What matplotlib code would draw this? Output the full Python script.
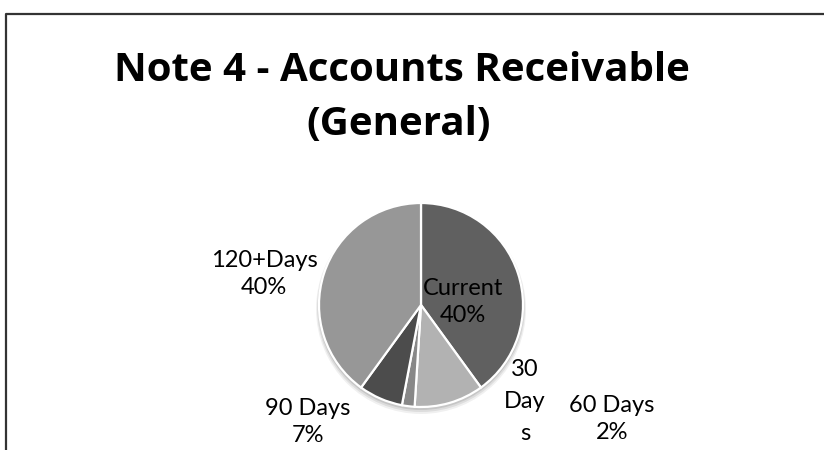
import matplotlib
matplotlib.use("Agg")
import matplotlib.pyplot as plt
from matplotlib.patches import Circle
from matplotlib.lines import Line2D

# ---- data ----
categories = ["Current", "30 Days", "60 Days", "90 Days", "120+Days"]
values = [40, 11, 2, 7, 40]
title_lines = ["Note 4 - Accounts Receivable", "(General)"]

# ---- style / layout ----
colors = ["#606060", "#b2b2b2", "#888888", "#4c4c4c", "#979797"]
W, H = 824, 450
center = (421, H - 305)
radius = 102
font = ["Lato", "DejaVu Sans"]
title_font = ["Open Sans", "DejaVu Sans"]

# label texts; Excel wraps "30 Days" in a narrow box and its percentage falls
# below the cropped picture, so only "30 / Day / s" is visible
label_texts = [f"{c}\n{v}%" for c, v in zip(categories, values)]
label_pos = [(463, 302), None, (612, 419), (308, 422), (264, 274)]
wrapped_30 = ["30", "Day", "s"]

fig = plt.figure(figsize=(W / 100, H / 100), dpi=100)
fig.patch.set_facecolor("white")
ax = fig.add_axes([0, 0, 1, 1])
ax.set_xlim(0, W)
ax.set_ylim(0, H)
ax.axis("off")

# soft shadow under the pie
for i, a in enumerate([0.10, 0.08, 0.06]):
    ax.add_patch(Circle((center[0], center[1] - 2 - i), radius + 1 + i,
                        facecolor="black", alpha=a, edgecolor="none", zorder=0))

wedges, _ = ax.pie(values, colors=colors, startangle=90, counterclock=False,
                   center=center, radius=radius,
                   wedgeprops=dict(edgecolor="white", linewidth=1.6))
for w in wedges:
    w.set_zorder(2)
ax.set_xlim(0, W)
ax.set_ylim(0, H)
ax.set_aspect("equal")

for i, (txt, pos) in enumerate(zip(label_texts, label_pos)):
    if pos is None:
        for j, ln in enumerate(wrapped_30):
            ax.text(525, H - (369 + 32 * j), ln, ha="center", va="center",
                    fontsize=17, family=font, color="black", zorder=5)
    else:
        x, y = pos
        ax.text(x, H - y, txt, ha="center", va="center", fontsize=17,
                family=font, color="black", linespacing=1.38, zorder=5)

# title
fig.text(402 / W, 1 - 81 / H, title_lines[0], ha="center", va="baseline",
         fontsize=29, fontweight="bold", family=title_font)
fig.text(399 / W, 1 - 135 / H, title_lines[1], ha="center", va="baseline",
         fontsize=29, fontweight="bold", family=title_font)

# chart border (cropped)
fig.add_artist(Line2D([6 / W, 6 / W, 1.01], [-0.01, 1 - 14 / H, 1 - 14 / H],
                      transform=fig.transFigure, color="#333333", linewidth=1.6))

fig.savefig("out.png", dpi=100)
